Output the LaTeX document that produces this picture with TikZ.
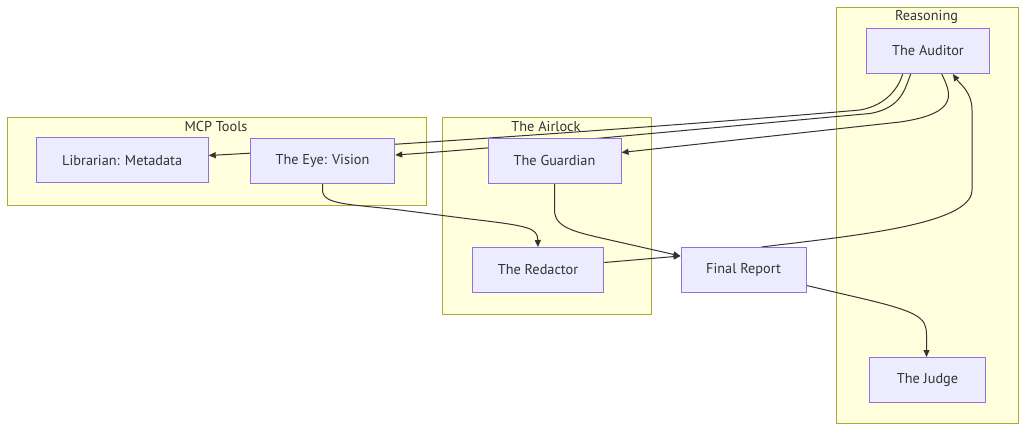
\documentclass[tikz,border=0pt]{standalone}
\usepackage{fontspec}
\setmainfont{PT Sans}
\usetikzlibrary{arrows.meta,calc}
\definecolor{nodefill}{HTML}{ECECFF}
\definecolor{nodeline}{HTML}{9370DB}
\definecolor{clfill}{HTML}{FFFFDE}
\definecolor{clline}{HTML}{AAAA33}
\definecolor{ink}{HTML}{333333}
\pgfdeclarelayer{bg}
\pgfdeclarelayer{edges}
\pgfsetlayers{bg,edges,main}
\begin{document}
\begin{tikzpicture}[x=1pt,y=-1pt,
  box/.style={draw=nodeline,fill=nodefill,line width=1pt,minimum height=45pt,inner sep=0pt,text=ink,font=\fontsize{14.3}{17}\selectfont},
  cluster/.style={draw=clline,fill=clfill,line width=1pt,inner sep=0pt,anchor=north west},
  cltitle/.style={text=ink,inner sep=0pt,font=\fontsize{14.3}{17}\selectfont},
  edge/.style={draw=ink,line width=1pt,-{Triangle[length=7pt,width=6pt]}}]
\useasboundingbox (0,0) rectangle (1024,431);

% clusters
\begin{pgfonlayer}{bg}
\fill[white] (0,0) rectangle (1024,431);
\node[cluster,minimum width=419pt,minimum height=88pt] (mcpc) at (7,116.5) {};
\node[cluster,minimum width=209pt,minimum height=197.5pt] (airc) at (442,116.5) {};
\node[cluster,minimum width=182.5pt,minimum height=416.5pt] (reasc) at (835.5,6.7) {};
\node[cltitle] (mcpt) at (216,126.5) {MCP Tools};
\node[cltitle] (airt) at (546,126.5) {The Airlock};
\node[cltitle] (reast) at (926.5,17) {Reasoning};
\end{pgfonlayer}

% nodes
\node[box,minimum width=172pt] (lib) at (122.2,160.3) {Librarian: Metadata};
\node[box,minimum width=144.5pt] (eye) at (322.5,160.5) {The Eye: Vision};
\node[box,minimum width=133pt] (guard) at (554.5,160.5) {The Guardian};
\node[box,minimum width=131.5pt] (red) at (538,270) {The Redactor};
\node[box,minimum width=125pt] (final) at (743.5,270) {Final Report};
\node[box,minimum width=123.5pt] (aud) at (928,51) {The Auditor};
\node[box,minimum width=115.5pt] (judge) at (927.5,380) {The Judge};

% edges
\begin{pgfonlayer}{edges}
\draw[edge] ($(aud.south west)+(37,0)$) .. controls (899,86) and (888,105) .. (860,110) .. controls (700,124) and (400,145) .. ($(lib.east)+(0,-4.8)$);
\draw[edge] ($(aud.south west)+(45,0)$) .. controls (905,88) and (902,108) .. (870,113.5) .. controls (720,127) and (500,148) .. ($(eye.east)+(0,-5.5)$);
\draw[edge] ($(aud.south west)+(76,0)$) .. controls (950,92) and (962,113) .. (900,122) -- ($(guard.east)+(0,-8)$);
\draw[edge] ($(final.north west)+(81,0)$) .. controls (850,236) and (972,225) .. (972,190) -- (972,110) .. controls (972,92) and (960,84) .. ($(aud.south west)+(87,0)$);
\draw[edge] (guard.south) -- (554.5,210) .. controls (554.5,228) and (575,232) .. (610,240) -- ($(final.west)+(0,-14)$);
\draw[edge] ($(red.east)+(0,-7.5)$) -- ($(final.west)+(0,-14)$);
\draw[edge] (eye.south) -- (322.5,190) .. controls (322.5,205) and (350,204) .. (400,210) -- (470,219) .. controls (530,226) and (537.5,228) .. (red.north);
\draw[edge] ($(final.east)+(0,15.5)$) -- (860,298) .. controls (920,312) and (926.5,318) .. (926.5,335) -- (judge.north -| 926.5,0);
\end{pgfonlayer}
\end{tikzpicture}
\end{document}
